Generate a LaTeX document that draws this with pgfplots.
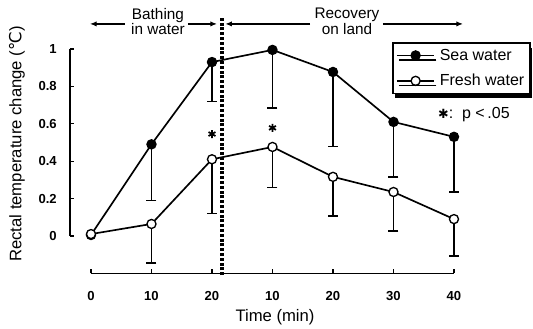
\documentclass[border=0pt]{standalone}
\usepackage{fontspec}
\setmainfont{Liberation Sans}
\newfontfamily\djv{DejaVu Sans}
\usepackage{pgfplots}
\pgfplotsset{compat=1.18}
\usetikzlibrary{shadows,arrows.meta}

\pgfplotstableread{
x y e
1 0.49 0.30
2 0.93 0.21
3 0.995 0.31
4 0.877 0.40
5 0.61 0.295
6 0.53 0.295
}\seaerr
\pgfplotstableread{
x y
0 0.005
1 0.49
2 0.93
3 0.995
4 0.877
5 0.61
6 0.53
}\sea
\pgfplotstableread{
x y e
1 0.064 0.208
2 0.41 0.29
3 0.476 0.216
4 0.316 0.209
5 0.235 0.208
6 0.09 0.197
}\fresherr
\pgfplotstableread{
x y
0 0.01
1 0.064
2 0.41
3 0.476
4 0.316
5 0.235
6 0.09
}\fresh

\begin{document}
\begin{tikzpicture}
\begin{axis}[
  scale only axis, width=347.4pt, height=205pt,
  xmin=-0.35, xmax=7.306, ymin=-0.2, ymax=1.262,
  axis lines*=left, axis line style={draw=none},
  clip=false,
  xtick={0,1,2,3,4,5,6},
  xticklabels={\textbf{0},\textbf{10},\textbf{20},\textbf{10},\textbf{20},\textbf{30},\textbf{40}},
  ytick={0,0.2,0.4,0.6,0.8,1},
  yticklabels={\textbf{0},\textbf{0.2},\textbf{0.4},\textbf{0.6},\textbf{0.8},\textbf{1}},
  tick align=inside, major tick length=3.5pt,
  tick style={black, line width=0.9pt},
  ticklabel style={font=\fontsize{9.8}{11}\selectfont\bfseries},
  xticklabel style={anchor=center, yshift=-17.25pt},
  yticklabel style={anchor=east, inner sep=0pt, xshift=-9.6pt},
  xlabel={Time (min)},
  xlabel style={at={(axis description cs:0.443,-0.159)}, anchor=center, font=\fontsize{12.5}{14}\selectfont},
  ylabel={Rectal temperature change ({\djv ℃})},
  ylabel style={at={(axis description cs:-0.114,0.473)}, anchor=center, font=\fontsize{12.5}{14}\selectfont},
  legend image code/.code={\draw[mark repeat=2,mark phase=2] plot coordinates {(0pt,0pt) (14pt,0pt) (28pt,0pt)};},
  legend cell align=left,
  legend style={at={(axis cs:4.975,1.037)}, anchor=north west, draw=black, line width=1.2pt, fill=white,
    font=\fontsize{12}{14}\selectfont, inner xsep=2.5pt, inner ysep=2.5pt, row sep=5pt, column sep=1.5pt,
    drop shadow={shadow xshift=1.5pt, shadow yshift=-3.5pt, fill=black, opacity=1}},
]
% axis lines
\draw[line width=1.1pt] (axis cs:-0.35,0) -- (axis cs:-0.35,1);
\draw[line width=1.1pt] (axis cs:0,-0.2) -- (axis cs:6,-0.2);
% divider
\draw[line width=2.4pt, dash pattern=on 2.2pt off 1.4pt] (axis cs:2.165,-0.21) -- (axis cs:2.165,1.166);
% header
\node[align=center, font=\fontsize{11.5}{9.8}\selectfont] at (axis cs:1.107,1.147) {Bathing\\in water};
\node[align=center, font=\fontsize{11.5}{9.8}\selectfont] at (axis cs:4.231,1.147) {Recovery\\on land};
\draw[line width=0.9pt, -{Latex[length=5pt,width=4pt]}] (axis cs:0.562,1.134) -- (axis cs:-0.017,1.134);
\draw[line width=0.9pt, -{Latex[length=5pt,width=4pt]}] (axis cs:1.603,1.134) -- (axis cs:2.083,1.134);
\draw[line width=0.9pt, -{Latex[length=5pt,width=4pt]}] (axis cs:3.62,1.134) -- (axis cs:2.22,1.134);
\draw[line width=0.9pt, -{Latex[length=5pt,width=4pt]}] (axis cs:4.826,1.134) -- (axis cs:6.149,1.134);
% error bars
\addplot[draw=none, forget plot, error bars/.cd, y dir=minus, y explicit,
  error bar style={line width=1pt, black},
  error mark options={rotate=90, mark size=3.75pt, line width=1pt, black}]
  table[x=x, y=y, y error=e] {\seaerr};
\addplot[draw=none, forget plot, error bars/.cd, y dir=minus, y explicit,
  error bar style={line width=1pt, black},
  error mark options={rotate=90, mark size=3.75pt, line width=1pt, black}]
  table[x=x, y=y, y error=e] {\fresherr};
% series
\addplot[black, line width=1.25pt, mark=*, mark size=3.4pt, mark options={solid, fill=black, line width=1pt}]
  table[x=x, y=y] {\sea};
\addlegendentry{Sea water}
\addplot[black, line width=1.25pt, mark=*, mark size=3.4pt, mark options={solid, fill=white, line width=1pt}]
  table[x=x, y=y] {\fresh};
\addlegendentry{Fresh water}
% significance
\addplot[only marks, forget plot, mark=asterisk, mark size=3pt, mark options={line width=1.3pt}]
  coordinates {(2,0.545) (3,0.578)};
\node[font=\fontsize{12}{14}\selectfont] at (axis cs:6.33,0.647) {{\djv\fontsize{9.5}{10}\selectfont ✱}:\ \ p\ <\,.05};
\coordinate (BL) at (axis cs:-1.504,-0.497);
\coordinate (TR) at (axis cs:7.306,1.262);
\end{axis}
\pgfresetboundingbox
\path[use as bounding box] (BL) rectangle (TR);
\end{tikzpicture}
\end{document}
